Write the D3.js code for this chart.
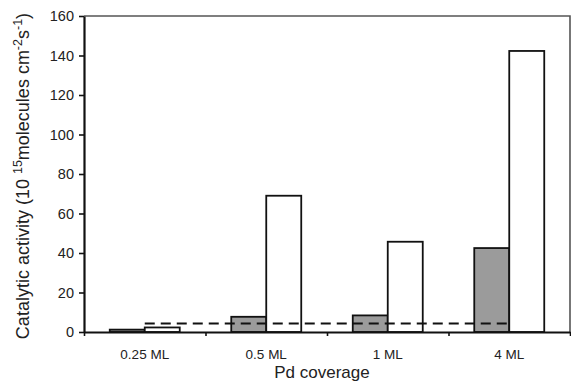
<!DOCTYPE html>
<html>
<head>
<meta charset="utf-8">
<script src="https://cdn.jsdelivr.net/npm/d3@7"></script>
<style>
  body { margin: 0; background: #fff; }
  svg { font-family: 'Liberation Sans', Arial, sans-serif; }
</style>
</head>
<body>
<svg id="chart" width="571" height="385"></svg>
<script>
// data
const coverages = ['0.25 ML', '0.5 ML', '1 ML', '4 ML'];
const filledValues = [1.2, 7.7, 8.4, 42.5];
const openValues = [2.3, 69, 45.7, 142.3];
const referenceLevel = 4.3;
const yTicks = [0, 20, 40, 60, 80, 100, 120, 140, 160];

const svg = d3.select('#chart');
const width = +svg.attr('width');
const height = +svg.attr('height');

const padding = { top: 16, right: 1, bottom: 53, left: 84 };

// SCALES
const x0 = d3
  .scaleBand()
  .domain(coverages)
  .range([padding.left, width - padding.right])
  .paddingInner(0)
  .paddingOuter(0);

const x1 = d3
  .scaleBand()
  .domain(['filled', 'open'])
  .range([0, x0.bandwidth()])
  .paddingInner(0)
  .paddingOuter(0.736);

const y = d3
  .scaleLinear()
  .domain([0, 160])
  .range([height - padding.bottom, padding.top]);

const xEdge = d3
  .scaleLinear()
  .domain([0, coverages.length])
  .range([padding.left, width - padding.right]);

// FRAME (top / right)
svg
  .append('path')
  .attr('d', `M${padding.left},${y(160)}H${width - padding.right}V${y(0)}`)
  .attr('fill', 'none')
  .attr('stroke', '#555')
  .attr('stroke-width', 1.6);

// BARS
const rows = coverages.map((c, i) => ({
  cat: c,
  values: [
    { key: 'filled', value: filledValues[i] },
    { key: 'open', value: openValues[i] },
  ],
}));

const groups = svg
  .selectAll('.group')
  .data(rows)
  .enter()
  .append('g')
  .classed('group', true)
  .attr('transform', (d) => `translate(${x0(d.cat)},0)`);

groups
  .selectAll('rect')
  .data((d) => d.values)
  .enter()
  .append('rect')
  .attr('x', (d) => x1(d.key))
  .attr('y', (d) => y(d.value))
  .attr('width', x1.bandwidth())
  .attr('height', (d) => y(0) - y(d.value))
  .attr('fill', (d) => (d.key === 'filled' ? '#9b9b9b' : '#fff'))
  .attr('stroke', '#111')
  .attr('stroke-width', 1.8);

// DASHED REFERENCE LINE
const refLine = d3
  .line()
  .x((d) => x0(d) + x0.bandwidth() / 2)
  .y(() => y(referenceLevel));

svg
  .append('path')
  .attr('d', refLine([coverages[0], coverages[coverages.length - 1]]))
  .attr('fill', 'none')
  .attr('stroke', '#111')
  .attr('stroke-width', 2)
  .attr('stroke-dasharray', '10,6');

// AXES
const yAxis = d3.axisLeft(y).tickValues(yTicks).tickSize(5).tickSizeOuter(0).tickPadding(5);
const yG = svg
  .append('g')
  .attr('transform', `translate(${padding.left},0)`)
  .call(yAxis);
yG.select('.domain').attr('stroke', '#111').attr('stroke-width', 2.2);
yG.selectAll('.tick line').attr('stroke', '#111').attr('stroke-width', 1.6);
yG.selectAll('.tick text').style('font-size', '14.5px').attr('fill', '#222');

const xEdgeAxis = d3
  .axisBottom(xEdge)
  .tickValues(d3.range(coverages.length + 1))
  .tickFormat('')
  .tickSize(4)
  .tickSizeOuter(0);
const xG = svg
  .append('g')
  .attr('transform', `translate(0,${y(0)})`)
  .call(xEdgeAxis);
xG.select('.domain').attr('stroke', '#111').attr('stroke-width', 2.2);
xG.selectAll('.tick line').attr('stroke', '#111').attr('stroke-width', 1.6);

const xLabelAxis = d3.axisBottom(x0).tickSize(0).tickPadding(17);
const xl = svg
  .append('g')
  .attr('transform', `translate(0,${y(0)})`)
  .call(xLabelAxis);
xl.select('.domain').remove();
xl.selectAll('.tick text').style('font-size', '13.5px').attr('fill', '#222');

// AXIS TITLES
svg
  .append('text')
  .attr('x', (padding.left + width - padding.right) / 2 - 5)
  .attr('y', 378)
  .style('text-anchor', 'middle')
  .style('font-size', '17px')
  .attr('fill', '#222')
  .text('Pd coverage');

const yTitle = svg
  .append('text')
  .attr('transform', 'rotate(-90)')
  .attr('x', -176)
  .attr('y', 29)
  .style('text-anchor', 'middle')
  .style('font-size', '18px')
  .attr('fill', '#222');
yTitle.append('tspan').text('Catalytic activity (10 ');
yTitle.append('tspan').attr('dy', -7).style('font-size', '12.5px').text('15');
yTitle.append('tspan').attr('dy', 7).text('molecules cm');
yTitle.append('tspan').attr('dy', -7).style('font-size', '12.5px').text('-2');
yTitle.append('tspan').attr('dy', 7).text('s');
yTitle.append('tspan').attr('dy', -7).style('font-size', '12.5px').text('-1');
yTitle.append('tspan').attr('dy', 7).text(')');
</script>
</body>
</html>
